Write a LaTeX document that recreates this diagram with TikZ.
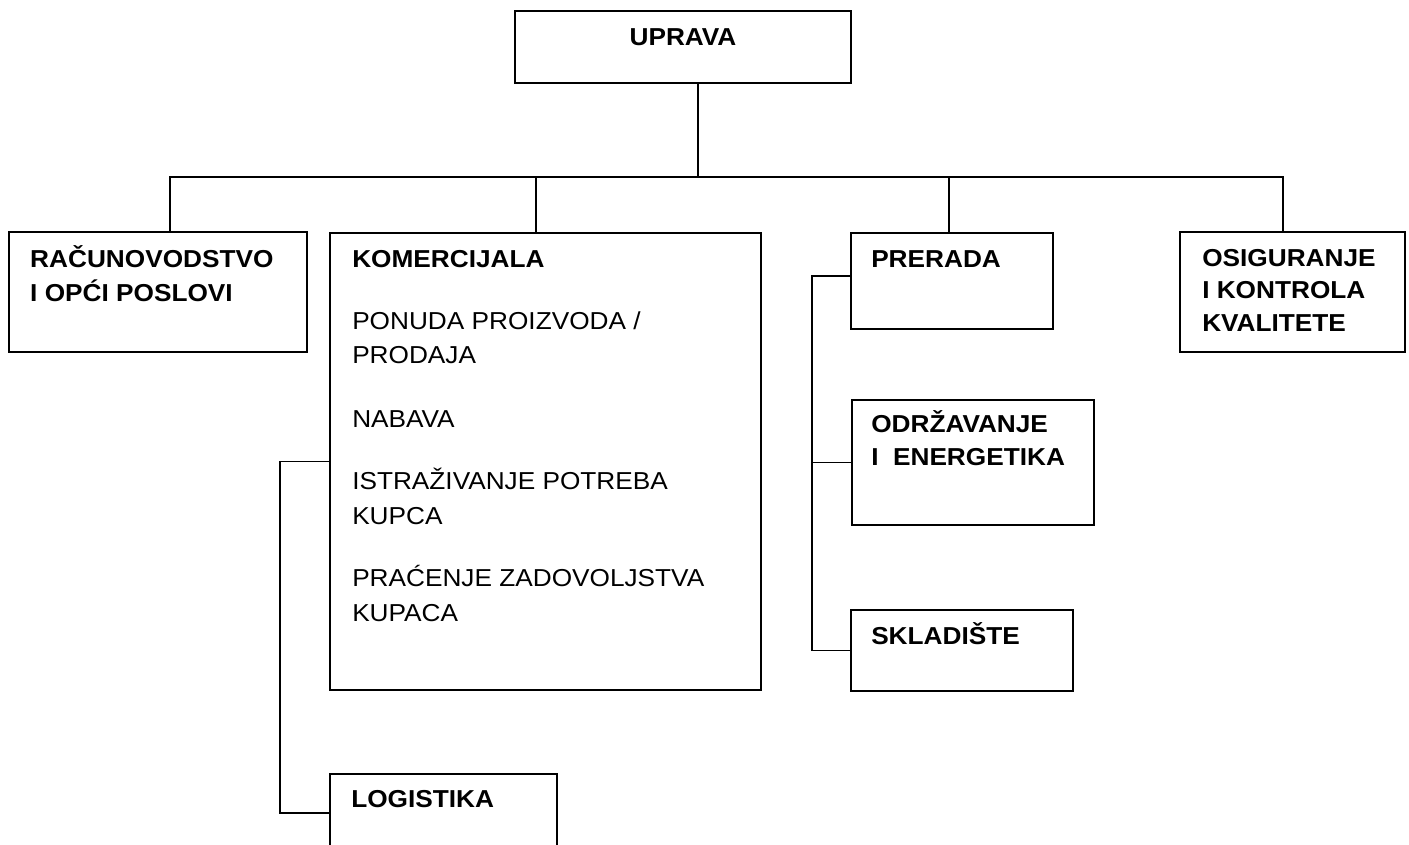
\documentclass[tikz,border=0pt]{standalone}
\usepackage{fontspec}
\setmainfont{Liberation Sans}[FakeStretch=1.07]
\usetikzlibrary{positioning,calc}

\tikzset{
  unit/.style={draw, line width=1.9pt, rectangle, inner sep=0pt},
  head/.style={font=\fontsize{24.5}{34}\selectfont\bfseries, align=left, inner sep=0pt, anchor=base west},
  item/.style={font=\fontsize{24.5}{34.5}\selectfont, align=left, inner sep=0pt, anchor=base west},
  link/.style={line width=1.9pt},
}

\begin{document}
\begin{tikzpicture}[x=1pt, y=-1pt]
  \useasboundingbox (0,0) rectangle (1409,845);
  \clip (0,0) rectangle (1409,845);

  % boxes
  \node[unit, minimum width=336pt, minimum height=72pt]  (upr) at (683,47)       {};
  \node[unit, minimum width=298pt, minimum height=120pt] (rac) at (158,292)      {};
  \node[unit, minimum width=431pt, minimum height=457pt] (kom) at (545.5,461.5)  {};
  \node[unit, minimum width=202pt, minimum height=96pt]  (pre) at (952,281)      {};
  \node[unit, minimum width=225pt, minimum height=120pt] (osi) at (1292.5,292)   {};
  \node[unit, minimum width=242pt, minimum height=125pt] (odr) at (973,462.5)    {};
  \node[unit, minimum width=222pt, minimum height=81pt]  (skl) at (962,650.5)    {};
  \node[unit, minimum width=227pt, minimum height=78pt]  (log) at (443.5,813)    {};

  % texts (multi-line nodes sit on their last baseline)
  \node[head, anchor=base] (uprT) at ($(upr.north)+(0,35)$) {UPRAVA};
  \node[head] (racT) at ($(rac.north west)+(22,70)$) {RAČUNOVODSTVO\\I OPĆI POSLOVI};
  \node[head] (komT) at ($(kom.north west)+(23,35)$) {KOMERCIJALA};
  \node[item] (komI) at ($(kom.north west)+(23,389)$)
    {PONUDA PROIZVODA /\\PRODAJA\\[29pt]NABAVA\\[28pt]ISTRAŽIVANJE POTREBA\\KUPCA\\[28pt]PRAĆENJE ZADOVOLJSTVA\\KUPACA};
  \node[head] (preT) at ($(pre.north west)+(21,35)$) {PRERADA};
  \node[head, font=\fontsize{24.5}{32.5}\selectfont\bfseries] (osiT) at ($(osi.north west)+(23,100)$)
    {OSIGURANJE\\I KONTROLA\\KVALITETE};
  \node[head, font=\fontsize{24.5}{33}\selectfont\bfseries] (odrT) at ($(odr.north west)+(20,66)$)
    {ODRŽAVANJE\\I\ \ ENERGETIKA};
  \node[head] (sklT) at ($(skl.north west)+(21,35)$) {SKLADIŠTE};
  \node[head] (logT) at ($(log.north west)+(22,34)$) {LOGISTIKA};

  % connectors
  \draw[link] ([xshift=15pt]upr.south) -- ++(0,93) coordinate (bus);
  \draw[link] (bus) -| ([xshift=12pt]rac.north);
  \draw[link] (bus) -| ([xshift=-9.5pt]kom.north);
  \draw[link] (bus) -| ([xshift=-3pt]pre.north);
  \draw[link] (bus) -| ([xshift=-9.5pt]osi.north);

  \draw[link] (kom.west) -- ++(-49,0) |- (log.west);

  \draw[link] ([yshift=5pt]pre.west) -- ++(-38,0) coordinate (rb) |- (skl.west);
  \draw[link] (rb |- odr.west) -- (odr.west);
\end{tikzpicture}
\end{document}
